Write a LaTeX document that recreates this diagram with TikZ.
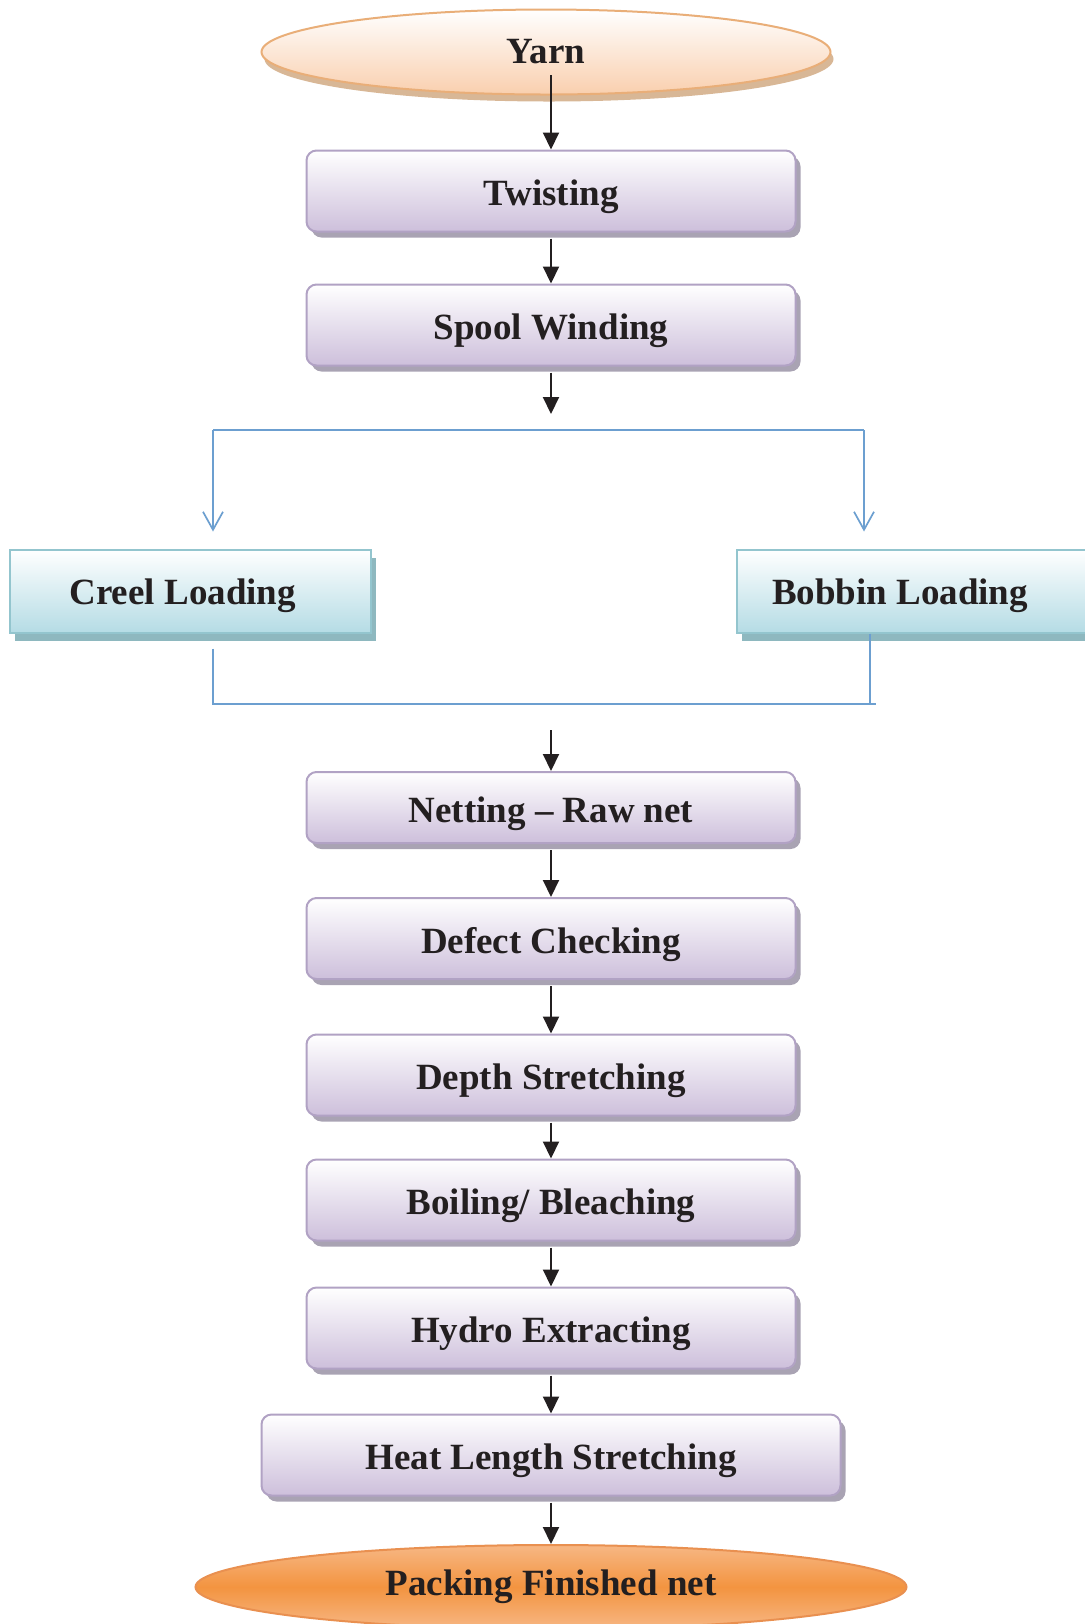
\documentclass[tikz,border=0pt]{standalone}
\usepackage{fontspec}
\setmainfont{Liberation Serif}
\usepackage{xcolor}
\usepackage{tikz}
\usetikzlibrary{arrows.meta, shapes.geometric, shadows, calc}
\definecolor{Ink}{HTML}{231F20}
\definecolor{Proc}{HTML}{B1A2C4}
\definecolor{ProcLight}{HTML}{CDBFDB}
\definecolor{ProcShade}{HTML}{A9A3B3}
\definecolor{Load}{HTML}{93C5CE}
\definecolor{LoadLight}{HTML}{B5DCE5}
\definecolor{LoadShade}{HTML}{8EB8BF}
\definecolor{Link}{HTML}{6C9FD0}
\definecolor{Yarn}{HTML}{E9AE78}
\definecolor{YarnLight}{HTML}{F9CFAE}
\definecolor{YarnShade}{HTML}{D8B796}
\definecolor{Pack}{HTML}{E99050}
\definecolor{PackMid}{HTML}{F39440}
\definecolor{PackLight}{HTML}{F7B784}

\begin{document}
\begin{tikzpicture}[x=0.5pt, y=-0.5pt,
    every node/.style={font=\fontsize{18.5}{22}\selectfont\bfseries, text=Ink, inner sep=0pt},
    procbox/.style={draw=Proc, line width=1pt, rounded corners=5pt,
      top color=white, bottom color=ProcLight,
      minimum width=244.5pt, minimum height=40.5pt,
      text height=14.5pt, text depth=0pt,
      general shadow={fill=ProcShade, shadow xshift=2.5pt, shadow yshift=-3pt}},
    loadbox/.style={draw=Load, line width=1pt,
      top color=white, bottom color=LoadLight,
      minimum width=180.5pt, minimum height=41.5pt,
      text height=13pt, text depth=0pt, align=flush left,
      general shadow={fill=LoadShade, shadow xshift=2.5pt, shadow yshift=-4pt}},
    flow/.style={draw=Ink, line width=1pt, shorten <=3pt, -{Triangle[length=8.5pt, width=8pt]}},
    link/.style={draw=Link, line width=0.85pt},
    branch/.style={link, shorten >=8.5pt, -{Straight Barb[length=9pt, width=10pt]}}]
      \useasboundingbox (0,0) rectangle (1084,1624);

      \node[ellipse, draw=Yarn, line width=1pt, minimum width=284.5pt, minimum height=42.5pt,
            top color=white, bottom color=YarnLight,
            general shadow={fill=YarnShade, shadow xshift=1.5pt, shadow yshift=-3.5pt}] (yarn) at (546,52) {Yarn};
      \node[procbox] (twist) at (551,191) {Twisting};
      \node[procbox] (spool) at (551,325) {Spool Winding};
      \node[loadbox, text width=120.5pt, inner xsep=30pt] (creel) at (190,591) {Creel Loading};
      \node[loadbox, text width=145.5pt, inner xsep=17.5pt] (bobbin) at (917.5,591) {Bobbin Loading};
      \node[procbox, minimum height=35.5pt] (net) at (551,807.5) {Netting -- Raw net};
      \node[procbox] (defect) at (551,938.5) {Defect Checking};
      \node[procbox] (depth) at (551,1075) {Depth Stretching};
      \node[procbox] (boil) at (551,1200) {Boiling/ Bleaching};
      \node[procbox] (hydro) at (551,1328) {Hydro Extracting};
      \node[procbox, minimum width=289.5pt] (heat) at (551,1455) {Heat Length Stretching};
      \node[ellipse, draw=Pack, line width=1pt, minimum width=355.5pt, minimum height=42pt,
            top color=PackLight, bottom color=PackLight, middle color=PackMid] (pack) at (551,1587) {Packing Finished net};

      \coordinate (spoolout) at (551,414);
      \coordinate (splitL) at (213,430);
      \coordinate (splitR) at (864,430);
      \coordinate (mergeL) at (213,704);
      \coordinate (mergeR) at (870,704);
      \coordinate (mergeEnd) at (876,704);
      \coordinate (netin) at (551,724);

      \draw[flow] ([yshift=-8.5pt]yarn.center -| twist.north) -- (twist.north);
      \draw[flow] (twist.south) -- (spool.north);
      \draw[flow] (spool.south) -- (spoolout);
      \draw[link] (splitL) -- (splitR);
      \draw[branch] (splitL) -- (splitL |- creel.north);
      \draw[branch] (splitR) -- (splitR |- bobbin.north);
      \draw[link] ([yshift=-7.5pt]creel.south -| mergeL) -- (mergeL) -- (mergeEnd);
      \draw[link] (bobbin.south -| mergeR) -- (mergeR);
      \draw[flow] (netin) -- (net.north);
      \draw[flow] (net.south) -- (defect.north);
      \draw[flow] (defect.south) -- (depth.north);
      \draw[flow] (depth.south) -- (boil.north);
      \draw[flow] (boil.south) -- (hydro.north);
      \draw[flow] (hydro.south) -- (heat.north);
      \draw[flow] (heat.south) -- (pack.north);
\end{tikzpicture}
\end{document}
